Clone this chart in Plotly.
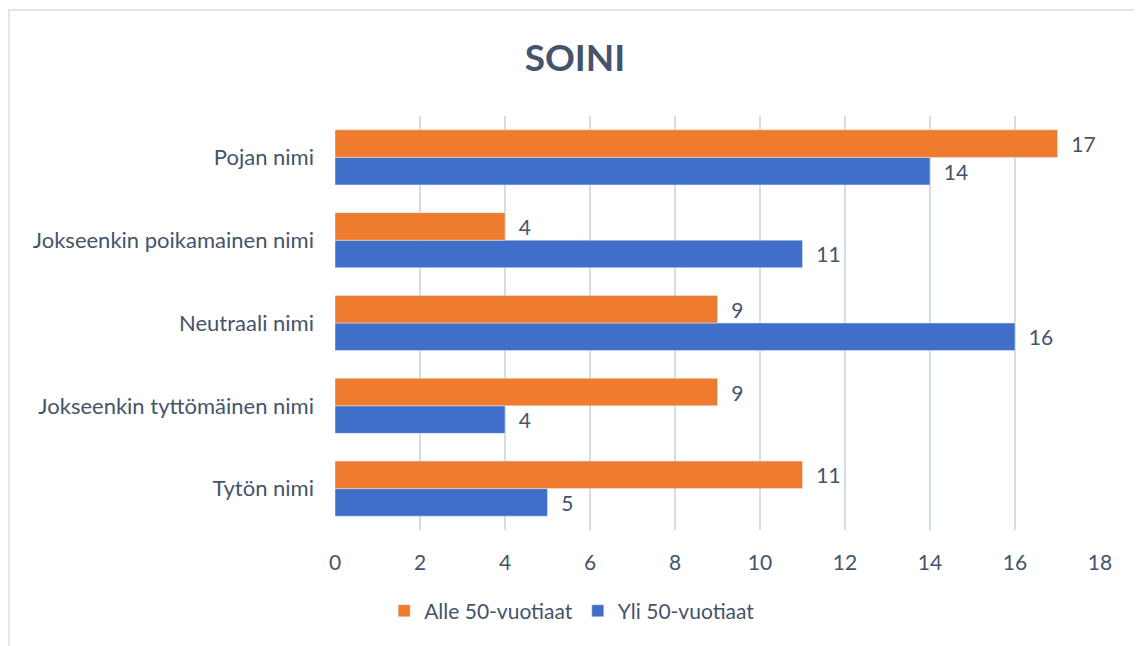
import plotly.graph_objects as go

# categories listed bottom -> top (plotly category axis order)
categories = [
    "Tytön nimi",
    "Jokseenkin tyttömäinen nimi",
    "Neutraali nimi",
    "Jokseenkin poikamainen nimi",
    "Pojan nimi",
]
alle_50 = [11, 9, 9, 4, 17]
yli_50 = [5, 4, 16, 11, 14]
x_ticks = [0, 2, 4, 6, 8, 10, 12, 14, 16, 18]

TEXT = "#44546A"
GRID = "#D6DCE4"
FONT = "Lato"
FS = 21

fig = go.Figure()

# blue first so it sits below the orange bar in each group
fig.add_trace(go.Bar(
    y=categories, x=yli_50, name="Yli 50-vuotiaat", orientation="h",
    marker=dict(color="#3F6FC9"),
    texttemplate="\u00a0\u00a0%{x}", textposition="outside", cliponaxis=False,
    textfont=dict(size=FS, color=TEXT),
))
fig.add_trace(go.Bar(
    y=categories, x=alle_50, name="Alle 50-vuotiaat", orientation="h",
    marker=dict(color="#EF7B2E"),
    texttemplate="\u00a0\u00a0%{x}", textposition="outside", cliponaxis=False,
    textfont=dict(size=FS, color=TEXT),
))

# page has an 8px body margin, so the figure starts at (8, 8)
fig.update_layout(
    width=1134, height=638,
    margin=dict(l=327, r=42, t=108, b=116),
    barmode="group", bargap=0.335, bargroupgap=0,
    paper_bgcolor="white", plot_bgcolor="white",
    font=dict(family=FONT, color=TEXT, size=FS),
    title=dict(
        text="<b>SOINI</b>", x=0.5, xanchor="center",
        y=1 - 50 / 638, yanchor="middle", yref="container",
        font=dict(size=37, color=TEXT, family=FONT),
    ),
    legend=dict(
        orientation="h", traceorder="reversed",
        x=0.31, xanchor="center", y=-0.196, yanchor="middle",
        font=dict(size=FS, color=TEXT), itemclick=False,
    ),
    showlegend=True,
    shapes=[dict(
        type="rect", xref="paper", yref="paper",
        x0=(9 - 335) / 765, x1=(1140 - 335) / 765,
        y0=(530 - 660) / 414, y1=(530 - 10) / 414,
        line=dict(color="#D9DDE3", width=1.5), fillcolor="rgba(0,0,0,0)",
        layer="below",
    )],
)

fig.update_xaxes(
    range=[0, 18], tickvals=x_ticks,
    showgrid=True, gridcolor=GRID, gridwidth=1.5,
    zeroline=False, showline=False,
    tickfont=dict(size=FS, color=TEXT),
    ticklabelstandoff=18,
)
fig.update_yaxes(
    showgrid=False, showline=False, zeroline=False,
    tickfont=dict(size=22, color=TEXT),
    ticklabelstandoff=20,
)

fig.write_html("out.html")
